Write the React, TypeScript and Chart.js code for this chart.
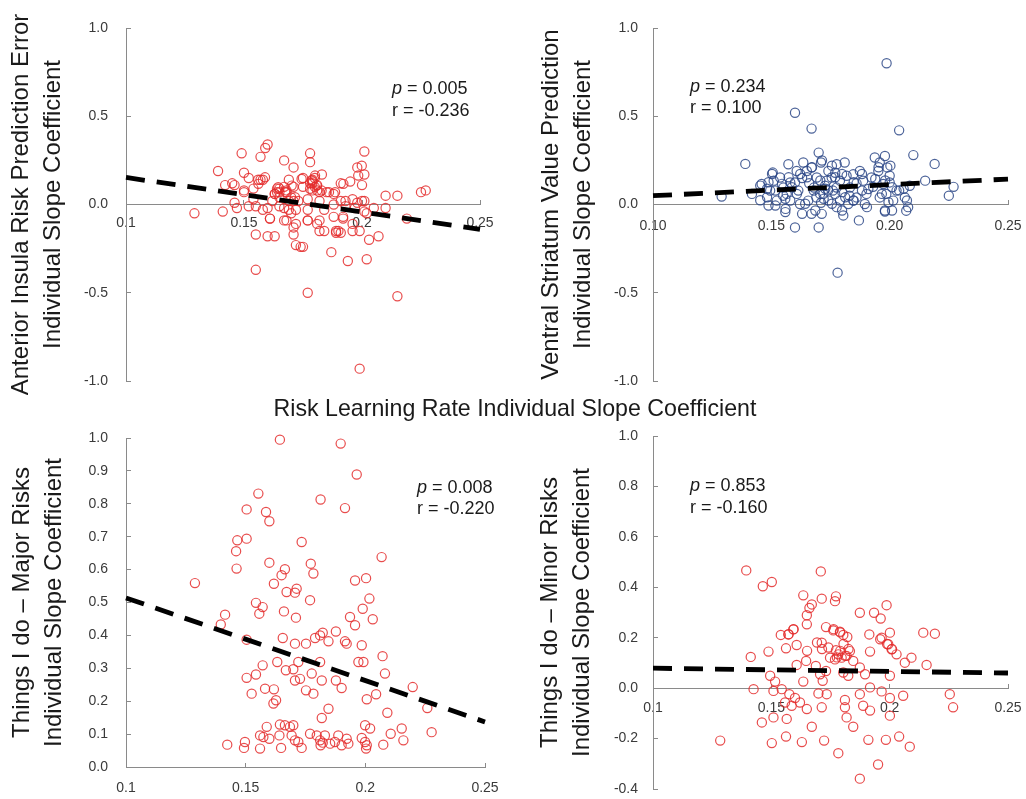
import React, { useEffect, useRef } from 'react';
import { Chart, registerables } from 'chart.js';

Chart.register(...registerables);

const FONT = '"Liberation Sans", Arial, Helvetica, sans-serif';

// ---------- data ----------
const xTickLabels = ['0.1', '0.15', '0.2', '0.25'];
const xTickLabelsTwoDigits = ['0.10', '0.15', '0.20', '0.25'];
const fitX = [0.1, 0.25];

const sharedXTitle = 'Risk Learning Rate Individual Slope Coefficient';

const insulaTitle = ['Anterior Insula Risk Prediction Error', 'Individual Slope Coefficient'];
const striatumTitle = ['Ventral Striatum Value Prediction', 'Individual Slope Coefficient'];
const majorTitle = ['Things I do \u2013 Major Risks', 'Individual Slope Coefficient'];
const minorTitle = ['Things I do \u2013 Minor Risks', 'Individual Slope Coefficient'];

const insulaStats = { p: '0.005', r: '-0.236' };
const striatumStats = { p: '0.234', r: '0.100' };
const majorStats = { p: '0.008', r: '-0.220' };
const minorStats = { p: '0.853', r: '-0.160' };

const insulaFit = [0.153, -0.141];
const striatumFit = [0.05, 0.144];
const majorFit = [0.514, 0.137];
const minorFit = [0.079, 0.06];

const insulaPoints: [number, number][] = [
  [0.129, -0.05], [0.139, 0.19], [0.141, -0.04], [0.142, 0.11], [0.145, 0.12], [0.146, 0.01],
  [0.147, -0.02], [0.149, 0.29], [0.150, 0.08], [0.150, 0.18], [0.152, 0.15], [0.154, 0.03],
  [0.155, -0.37], [0.155, -0.17], [0.156, 0.14], [0.157, 0.27], [0.158, 0.14], [0.159, 0.32],
  [0.160, 0.34], [0.160, -0.18], [0.160, -0.02], [0.161, -0.08], [0.162, 0.02], [0.163, -0.18],
  [0.164, 0.07], [0.165, 0.09], [0.165, 0.04], [0.167, 0.25], [0.167, -0.02], [0.167, -0.09],
  [0.168, 0.08], [0.169, 0.14], [0.169, 0.02], [0.170, -0.05], [0.171, 0.21], [0.171, 0.10],
  [0.172, -0.11], [0.171, -0.17], [0.172, -0.23], [0.173, 0.02], [0.174, -0.24], [0.175, -0.24],
  [0.175, 0.10], [0.175, 0.15], [0.177, -0.03], [0.177, -0.50], [0.177, -0.09], [0.178, 0.29],
  [0.178, 0.24], [0.179, 0.12], [0.179, 0.14], [0.180, 0.10], [0.181, 0.08], [0.182, 0.02],
  [0.182, -0.09], [0.182, -0.15], [0.183, 0.17], [0.184, -0.03], [0.186, 0.07], [0.187, -0.27],
  [0.188, 0.00], [0.189, -0.15], [0.190, -0.15], [0.191, 0.12], [0.192, -0.07], [0.193, 0.02],
  [0.194, -0.32], [0.195, 0.13], [0.196, -0.15], [0.197, -0.02], [0.198, 0.21], [0.199, -0.93],
  [0.200, 0.11], [0.201, 0.30], [0.201, 0.17], [0.201, 0.02], [0.202, -0.05], [0.202, -0.31],
  [0.203, -0.20], [0.205, -0.02], [0.207, -0.18], [0.210, 0.05], [0.210, -0.02], [0.215, 0.05],
  [0.215, -0.52], [0.219, -0.08], [0.225, 0.07], [0.227, 0.08],
  [0.164, 0.09], [0.165, 0.07], [0.163, 0.06], [0.167, 0.10], [0.168, 0.07], [0.170, 0.04],
  [0.171, 0.02], [0.172, -0.03], [0.169, -0.03], [0.165, -0.01], [0.178, 0.12], [0.179, 0.13],
  [0.181, 0.11], [0.179, 0.08], [0.182, 0.07], [0.180, 0.15], [0.177, 0.03], [0.185, 0.07],
  [0.188, 0.06], [0.191, 0.02], [0.193, -0.01], [0.196, 0.03], [0.198, 0.01], [0.200, 0.02],
  [0.158, -0.03], [0.155, -0.01], [0.152, -0.01], [0.157, 0.14], [0.154, 0.09], [0.150, 0.07],
  [0.146, 0.11], [0.161, -0.08], [0.168, -0.09], [0.171, -0.13], [0.177, -0.09], [0.181, -0.11],
  [0.184, -0.15], [0.188, -0.07], [0.192, -0.08], [0.196, -0.11], [0.199, -0.15], [0.189, -0.16],
  [0.191, -0.16], [0.201, -0.04],
  [0.1645, 0.098], [0.1674, 0.07], [0.1702, 0.107], [0.1631, 0.06], [0.1716, 0.041], [0.1787, 0.136],
  [0.1808, 0.107], [0.1780, 0.089], [0.1829, 0.079], [0.1801, 0.164], [0.1744, 0.145], [0.1589, 0.154],
  [0.1561, 0.117], [0.1886, 0.07], [0.1921, 0.117], [0.1999, 0.22], [0.1984, 0.164],
];

const striatumPoints: [number, number][] = [
  [0.1987, 0.80], [0.160, 0.52], [0.167, 0.43], [0.204, 0.42], [0.139, 0.23], [0.129, 0.045],
  [0.178, -0.386], [0.160, -0.13], [0.170, -0.13], [0.187, -0.09], [0.210, 0.28], [0.219, 0.23],
  [0.225, 0.05], [0.227, 0.10], [0.215, 0.135], [0.198, -0.04], [0.207, -0.035],
  [0.1506, 0.181], [0.1459, 0.116], [0.1418, 0.06], [0.1453, 0.024], [0.1495, 0.079], [0.151, 0.135],
  [0.1537, 0.153], [0.1551, 0.096], [0.1572, 0.228], [0.1565, 0.06], [0.158, 0.022], [0.156, -0.025],
  [0.160, 0.125], [0.1614, 0.079], [0.1635, 0.238], [0.165, 0.19], [0.167, 0.21], [0.170, 0.294],
  [0.171, 0.238], [0.1692, 0.153], [0.168, 0.096], [0.1656, 0.022], [0.167, -0.053], [0.1713, -0.053],
  [0.1706, 0.06], [0.1734, 0.135], [0.1741, 0.19], [0.1776, 0.228], [0.181, 0.238], [0.176, 0.079],
  [0.1741, 0.022], [0.179, 0.022], [0.1804, -0.062], [0.1832, 0.096], [0.1846, 0.171], [0.1874, 0.19],
  [0.186, 0.04], [0.1895, 0.003], [0.1923, 0.153], [0.1937, 0.266], [0.1958, 0.238], [0.198, 0.275],
  [0.199, 0.21], [0.1952, 0.19], [0.1973, 0.116], [0.2, 0.125], [0.1958, 0.04], [0.198, -0.034],
  [0.2029, 0.079], [0.2064, 0.04], [0.2078, -0.015], [0.2085, 0.106], [0.191, 0.088], [0.1825, 0.003],
  [0.1776, -0.015], [0.172, 0.06], [0.1621, 0.003], [0.1523, 0.022], [0.1488, -0.006], [0.158, 0.125],
  [0.1607, 0.19], [0.1755, 0.153], [0.179, 0.135], [0.1818, 0.163], [0.1888, 0.135], [0.1902, 0.06],
  [0.1846, 0.022], [0.1776, 0.096], [0.1727, 0.106], [0.1986, 0.06], [0.2015, 0.022], [0.2, 0.163],
  [0.166, 0.12], [0.174, 0.08], [0.183, 0.05], [0.186, 0.12], [0.163, 0.15], [0.155, 0.05],
  [0.169, 0.04], [0.177, 0.18], [0.193, 0.10], [0.204, 0.08], [0.180, 0.07], [0.171, 0.01],
  [0.1714, 0.249], [0.1756, 0.22], [0.1672, 0.211], [0.1622, 0.173], [0.1651, 0.154], [0.1573, 0.154],
  [0.1503, 0.173], [0.1488, 0.126], [0.1453, 0.107], [0.1517, 0.079], [0.1545, 0.117], [0.1587, 0.098],
  [0.1608, 0.06], [0.1559, 0.032], [0.1482, 0.041], [0.1517, -0.006], [0.1559, -0.043], [0.1643, 0.004],
  [0.1679, 0.079], [0.1707, 0.136], [0.1728, 0.089], [0.1721, 0.032], [0.1686, -0.034], [0.1756, 0.004],
  [0.1770, 0.154], [0.1799, 0.173], [0.1770, 0.06], [0.1812, 0.041], [0.1799, -0.034], [0.1848, 0.126],
  [0.1848, 0.023], [0.1883, 0.173], [0.1883, 0.079], [0.1904, -0.015], [0.1953, 0.211], [0.2003, 0.22],
  [0.1939, 0.145], [0.1981, 0.136], [0.1967, 0.06], [0.2010, 0.098], [0.1995, 0.013], [0.2010, -0.034],
  [0.2059, 0.089], [0.2073, 0.023], [0.1630, -0.053], [0.1482, 0.089],
];

const majorPoints: [number, number][] = [
  [0.1643, 0.995], [0.1897, 0.983], [0.1964, 0.889], [0.1553, 0.831], [0.1813, 0.813], [0.1915, 0.787],
  [0.1504, 0.783], [0.1585, 0.775], [0.1599, 0.747], [0.1465, 0.689], [0.1504, 0.694], [0.146, 0.656],
  [0.1734, 0.684], [0.1462, 0.603], [0.1599, 0.621], [0.1664, 0.601], [0.1772, 0.618], [0.1783, 0.588],
  [0.1618, 0.557], [0.165, 0.583], [0.2068, 0.638], [0.1957, 0.567], [0.2003, 0.574], [0.1288, 0.559],
  [0.1671, 0.532], [0.1713, 0.542], [0.1706, 0.530], [0.1769, 0.507], [0.1543, 0.499], [0.1571, 0.486],
  [0.1557, 0.466], [0.1660, 0.473], [0.1710, 0.454], [0.2017, 0.512], [0.1989, 0.481], [0.1936, 0.456],
  [0.1957, 0.431], [0.2031, 0.449], [0.1414, 0.463], [0.1396, 0.433], [0.1504, 0.387], [0.1655, 0.392],
  [0.1706, 0.375], [0.1752, 0.375], [0.1790, 0.392], [0.1811, 0.400], [0.1822, 0.408], [0.1846, 0.382],
  [0.1877, 0.412], [0.1915, 0.382], [0.1922, 0.375], [0.1985, 0.370], [0.1971, 0.319], [0.1992, 0.319],
  [0.2072, 0.337], [0.2082, 0.284], [0.1571, 0.309], [0.1632, 0.319], [0.1668, 0.294], [0.1720, 0.319],
  [0.1699, 0.297], [0.1504, 0.271], [0.1543, 0.281], [0.1706, 0.263], [0.1727, 0.268], [0.1776, 0.284],
  [0.1811, 0.319], [0.1818, 0.263], [0.1877, 0.263], [0.1901, 0.240], [0.1581, 0.238], [0.1618, 0.236],
  [0.1525, 0.223], [0.1752, 0.233], [0.1783, 0.223], [0.1627, 0.203], [0.1616, 0.193], [0.2045, 0.221],
  [0.2006, 0.206], [0.2198, 0.243], [0.2259, 0.179], [0.1846, 0.177], [0.1818, 0.149], [0.2092, 0.165],
  [0.2277, 0.106], [0.2152, 0.117], [0.2106, 0.101], [0.2159, 0.081], [0.1999, 0.127], [0.2020, 0.117],
  [0.2075, 0.068], [0.1423, 0.068], [0.1497, 0.076], [0.1493, 0.058], [0.1560, 0.096], [0.1574, 0.091],
  [0.1588, 0.122], [0.1560, 0.056], [0.1599, 0.086], [0.1641, 0.096], [0.1643, 0.129], [0.1648, 0.058],
  [0.1664, 0.127], [0.1685, 0.122], [0.1692, 0.096], [0.1699, 0.127], [0.1706, 0.081], [0.1720, 0.076],
  [0.1734, 0.058], [0.1769, 0.101], [0.1797, 0.096], [0.1811, 0.081], [0.1813, 0.066], [0.1822, 0.074],
  [0.1831, 0.096], [0.1853, 0.071], [0.1873, 0.076], [0.1887, 0.096], [0.1901, 0.066], [0.1922, 0.086],
  [0.1929, 0.071], [0.1985, 0.088], [0.1999, 0.076], [0.2003, 0.056], [0.2006, 0.066],
];

const minorPoints: [number, number][] = [
  [0.1394, 0.467], [0.1709, 0.463], [0.1464, 0.404], [0.1502, 0.421], [0.1635, 0.368], [0.1773, 0.364],
  [0.1713, 0.355], [0.1769, 0.345], [0.1671, 0.332], [0.1661, 0.318], [0.1987, 0.329], [0.1874, 0.299],
  [0.1934, 0.299], [0.1962, 0.276], [0.1650, 0.289], [0.1650, 0.253], [0.1731, 0.242], [0.1762, 0.229],
  [0.1790, 0.224], [0.1804, 0.211], [0.1821, 0.203], [0.1914, 0.213], [0.1966, 0.200], [0.2001, 0.220],
  [0.2142, 0.220], [0.2191, 0.216], [0.1540, 0.211], [0.1572, 0.213], [0.1593, 0.233], [0.1607, 0.171],
  [0.1562, 0.158], [0.1488, 0.145], [0.1413, 0.124], [0.1713, 0.180], [0.1741, 0.161], [0.1773, 0.150],
  [0.1783, 0.134], [0.1797, 0.121], [0.1818, 0.128], [0.1832, 0.147], [0.1846, 0.108], [0.1769, 0.114],
  [0.1748, 0.121], [0.1917, 0.145], [0.1994, 0.174], [0.2008, 0.154], [0.2029, 0.134], [0.2092, 0.121],
  [0.2064, 0.101], [0.2156, 0.092], [0.1607, 0.092], [0.1647, 0.108], [0.1688, 0.088], [0.1731, 0.068],
  [0.1706, 0.055], [0.1717, 0.029], [0.1804, 0.062], [0.1825, 0.049], [0.1874, 0.082], [0.1896, 0.055],
  [0.2001, 0.049], [0.1495, 0.049], [0.1516, 0.026], [0.1635, 0.026], [0.1917, 0.003], [0.1966, -0.013],
  [0.1425, -0.004], [0.1509, -0.011], [0.1544, -0.004], [0.1576, -0.024], [0.1600, -0.039], [0.1558, -0.057],
  [0.1586, -0.070], [0.1621, -0.057], [0.1650, -0.083], [0.1699, -0.021], [0.1713, -0.076], [0.1734, -0.024],
  [0.1811, -0.047], [0.1811, -0.076], [0.1874, -0.024], [0.1888, -0.070], [0.1917, -0.089], [0.2001, -0.039],
  [0.2001, -0.109], [0.2057, -0.030], [0.2254, -0.024], [0.2268, -0.076], [0.1509, -0.116], [0.1460, -0.136],
  [0.1565, -0.122], [0.1818, -0.116], [0.1671, -0.153], [0.1846, -0.153], [0.1562, -0.192], [0.1502, -0.218],
  [0.1629, -0.214], [0.1723, -0.208], [0.1910, -0.205], [0.1984, -0.205], [0.2040, -0.192], [0.2085, -0.232],
  [0.1284, -0.208], [0.1783, -0.258], [0.1951, -0.303], [0.1874, -0.359],
  [0.1791, 0.148], [0.1812, 0.128], [0.1777, 0.122], [0.1826, 0.155], [0.1805, 0.175], [0.1763, 0.234],
  [0.1791, 0.221], [0.1594, 0.234], [0.1573, 0.214], [0.1693, 0.181], [0.1651, 0.148], [0.1714, 0.155],
  [0.1989, 0.175], [0.2010, 0.155], [0.1960, 0.194],
];

// ---------- styling / layout ----------
const RED = 'rgba(228, 45, 45, 0.85)';
const BLUE = 'rgba(45, 72, 135, 0.85)';
const AXIS = '#8a8a8a';
const TICK_TEXT = '#3a3a3a';
const TITLE_TEXT = '#1a1a1a';

type PanelCfg = {
  left: number; top: number; width: number; height: number;
  pad: { left: number; top: number; right: number; bottom: number };
  yWidth: number; yMin: number; yMax: number; yStep: number;
  xLabels: string[]; points: [number, number][]; fit: number[]; color: string;
  title: string[]; titlePad: number; xTickPad: number; yTickPad: number;
  stats: { p: string; r: string }; statsPos: { x: number; y1: number; y2: number };
};

const panels: PanelCfg[] = [
  {
    left: 0, top: 0, width: 510, height: 395, pad: { left: 0, top: 28, right: 30, bottom: 14 },
    yWidth: 126, yMin: -1, yMax: 1, yStep: 0.5, xLabels: xTickLabels, points: insulaPoints,
    fit: insulaFit, color: RED, title: insulaTitle, titlePad: 5, xTickPad: 15, yTickPad: 23,
    stats: insulaStats, statsPos: { x: 0.2127, y1: 0.655, y2: 0.53 },
  },
  {
    left: 510, top: 0, width: 516, height: 395, pad: { left: 0, top: 28, right: 18, bottom: 14 },
    yWidth: 143, yMin: -1, yMax: 1, yStep: 0.5, xLabels: xTickLabelsTwoDigits, points: striatumPoints,
    fit: striatumFit, color: BLUE, title: striatumTitle, titlePad: 25, xTickPad: 18, yTickPad: 20,
    stats: striatumStats, statsPos: { x: 0.1156, y1: 0.667, y2: 0.548 },
  },
  {
    left: 0, top: 395, width: 510, height: 404, pad: { left: 0, top: 43, right: 25, bottom: 32 },
    yWidth: 126, yMin: 0, yMax: 1, yStep: 0.1, xLabels: xTickLabels, points: majorPoints,
    fit: majorFit, color: RED, title: majorTitle, titlePad: 6, xTickPad: 18, yTickPad: 23,
    stats: majorStats, statsPos: { x: 0.2216, y1: 0.848, y2: 0.783 },
  },
  {
    left: 510, top: 395, width: 516, height: 404, pad: { left: 0, top: 41, right: 18, bottom: 10 },
    yWidth: 143, yMin: -0.4, yMax: 1, yStep: 0.2, xLabels: xTickLabels, points: minorPoints,
    fit: minorFit, color: RED, title: minorTitle, titlePad: 24, xTickPad: 17, yTickPad: 20,
    stats: minorStats, statsPos: { x: 0.1156, y1: 0.80, y2: 0.714 },
  },
];

const statsPlugin = {
  id: 'statsText',
  afterDraw(chart: any, _args: any, opts: any) {
    if (!opts || opts.x === undefined) return;
    const { ctx } = chart;
    const xs = chart.scales.x;
    const ys = chart.scales.y;
    const x = xs.getPixelForValue(opts.x);
    const y1 = ys.getPixelForValue(opts.y1);
    const y2 = ys.getPixelForValue(opts.y2);
    ctx.save();
    ctx.fillStyle = TITLE_TEXT;
    ctx.textBaseline = 'middle';
    ctx.textAlign = 'left';
    ctx.font = `italic 18px ${FONT}`;
    ctx.fillText('p', x, y1);
    const w = ctx.measureText('p').width;
    ctx.font = `18px ${FONT}`;
    ctx.fillText(' = ' + opts.p, x + w, y1);
    ctx.fillText('r = ' + opts.r, x, y2);
    ctx.restore();
  },
};

function Panel({ cfg }: { cfg: PanelCfg }) {
  const ref = useRef<HTMLCanvasElement | null>(null);
  useEffect(() => {
    if (!ref.current) return;
    const chart = new Chart(ref.current, {
      type: 'scatter',
      data: {
        datasets: [
          {
            data: fitX.map((x, i) => ({ x, y: cfg.fit[i] })),
            showLine: true,
            borderColor: '#000',
            borderWidth: 4.8,
            borderDash: [19, 12],
            pointRadius: 0,
            fill: false,
            clip: false,
          },
          {
            data: cfg.points.map(([x, y]) => ({ x, y })),
            pointStyle: 'circle',
            pointRadius: 4.6,
            borderWidth: 1.2,
            borderColor: cfg.color,
            backgroundColor: 'rgba(0,0,0,0)',
            clip: false,
          },
        ],
      } as any,
      options: {
        responsive: false,
        animation: false,
        events: [],
        layout: { autoPadding: false, padding: cfg.pad },
        plugins: {
          legend: { display: false },
          tooltip: { enabled: false },
          statsText: { ...cfg.statsPos, ...cfg.stats },
        } as any,
        scales: {
          x: {
            type: 'linear',
            min: 0.1,
            max: 0.25,
            position: { y: 0 } as any,
            ticks: {
              stepSize: 0.05,
              autoSkip: false,
              maxRotation: 0,
              padding: cfg.xTickPad,
              color: TICK_TEXT,
              font: { family: FONT, size: 14 },
              callback: (_v: any, i: number) => cfg.xLabels[i],
            },
            grid: { drawOnChartArea: false, tickLength: -5, color: AXIS, lineWidth: 1 },
            border: { color: AXIS, width: 1 },
            afterFit: (scale: any) => {
              scale.height = 0;
              scale.paddingLeft = 0;
              scale.paddingRight = 0;
              scale.paddingTop = 0;
              scale.paddingBottom = 0;
            },
          },
          y: {
            type: 'linear',
            position: 'left',
            min: cfg.yMin,
            max: cfg.yMax,
            ticks: {
              stepSize: cfg.yStep,
              padding: cfg.yTickPad,
              color: TICK_TEXT,
              font: { family: FONT, size: 14 },
              callback: (v: any) => (Math.abs(v) < 1e-9 ? '0.0' : Number(v).toFixed(1)),
            },
            grid: { drawOnChartArea: false, tickLength: -5, color: AXIS, lineWidth: 1 },
            border: { color: AXIS, width: 1 },
            title: {
              display: true,
              text: cfg.title,
              color: TITLE_TEXT,
              font: { family: FONT, size: 24, lineHeight: 1.33 },
              padding: { top: cfg.titlePad, bottom: 0 },
            },
            afterFit: (scale: any) => {
              scale.width = cfg.yWidth;
              scale.paddingTop = 0;
              scale.paddingBottom = 0;
              scale.paddingLeft = 0;
              scale.paddingRight = 0;
            },
          },
        },
      } as any,
      plugins: [statsPlugin],
    });
    return () => chart.destroy();
  }, [cfg]);
  return (
    <canvas
      ref={ref}
      width={cfg.width}
      height={cfg.height}
      style={{ position: 'absolute', left: cfg.left, top: cfg.top, width: cfg.width, height: cfg.height }}
    />
  );
}

export default function App() {
  return (
    <div style={{ position: 'absolute', left: 0, top: 0, width: 1026, height: 799, background: '#fff', overflow: 'hidden' }}>
      {panels.map((p, i) => (
        <Panel key={i} cfg={p} />
      ))}
      <div
        style={{
          position: 'absolute', left: 0, top: 397, width: 1030, textAlign: 'center',
          fontFamily: FONT, fontSize: 23.2, lineHeight: '23px', color: TITLE_TEXT, whiteSpace: 'nowrap',
        }}
      >
        {sharedXTitle}
      </div>
    </div>
  );
}
